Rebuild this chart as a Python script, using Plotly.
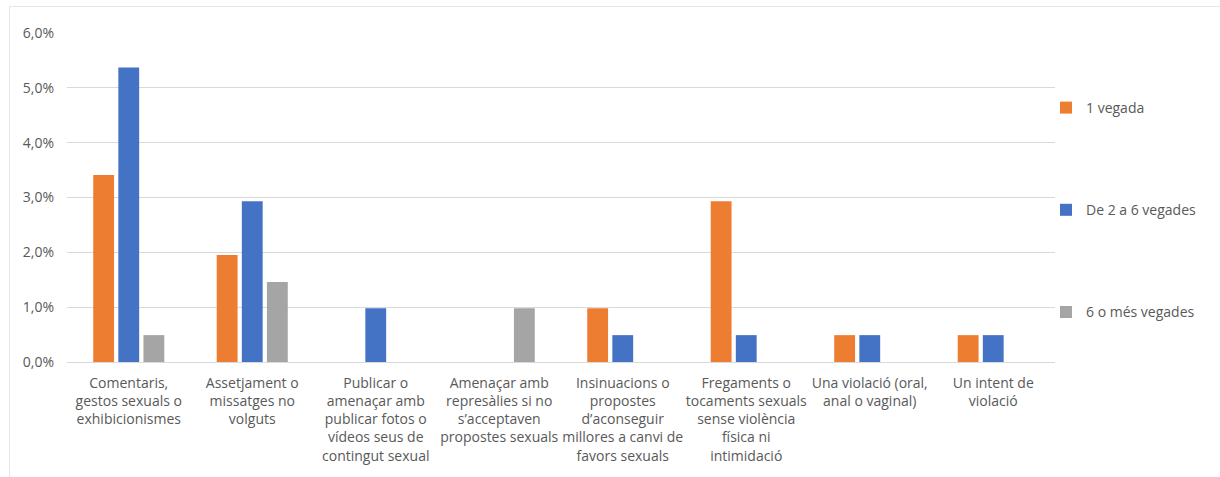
import plotly.graph_objects as go

categories = [
    "Comentaris,<br>gestos sexuals o<br>exhibicionismes",
    "Assetjament o<br>missatges no<br>volguts",
    "Publicar o<br>amenaçar amb<br>publicar fotos o<br>vídeos seus de<br>contingut sexual",
    "Amenaçar amb<br>represàlies si no<br>s’acceptaven<br>propostes sexuals",
    "Insinuacions o<br>propostes<br>d’aconseguir<br>millores a canvi de<br>favors sexuals",
    "Fregaments o<br>tocaments sexuals<br>sense violència<br>física ni<br>intimidació",
    "Una violació (oral,<br>anal o vaginal)",
    "Un intent de<br>violació",
]
series_names = ["1 vegada", "De 2 a 6 vegades", "6 o més vegades"]
vals_1 = [0.0341, 0.0195, 0.0, 0.0, 0.0098, 0.0293, 0.0049, 0.0049]
vals_2_6 = [0.0537, 0.0293, 0.0098, 0.0, 0.0049, 0.0049, 0.0049, 0.0049]
vals_6plus = [0.0049, 0.0146, 0.0, 0.0098, 0.0, 0.0, 0.0, 0.0]
colors = ["#ED7D31", "#4472C4", "#A5A5A5"]

fig = go.Figure()
for i, (name, vals) in enumerate(zip(series_names, [vals_1, vals_2_6, vals_6plus])):
    fig.add_trace(go.Bar(
        x=categories, y=vals, name=name, legendgroup=f"g{i}",
        marker=dict(color=colors[i], line=dict(width=0)),
    ))

# plot area in pixels
L, R, T, B = 67, 1055, 33, 362
W, H = R - L, B - T
def px(x):
    return (x - L) / W
def py(y):
    return (B - y) / H

font = "'Open Sans', 'Noto Sans', sans-serif"
fig.update_layout(
    width=1220, height=477,
    margin=dict(l=L, r=1220 - R, t=T, b=477 - B, autoexpand=False),
    paper_bgcolor="white", plot_bgcolor="white",
    barmode="group", bargap=0.39, bargroupgap=0.17,
    separators=", ",
    font=dict(family=font, size=14, color="#595959"),
    showlegend=True,
    legend=dict(
        x=px(1046), y=py(92), xanchor="left", yanchor="top",
        tracegroupgap=81, font=dict(size=14, color="#595959"),
        itemwidth=30, bgcolor="rgba(0,0,0,0)",
    ),
    xaxis=dict(
        showgrid=False, showline=True, linecolor="#D9D9D9", linewidth=1,
        tickangle=0, ticks="", ticklabelstandoff=8, automargin=False,
        tickfont=dict(size=14, color="#595959"),
    ),
    yaxis=dict(
        range=[0, 0.06], dtick=0.01, tickformat=".1%",
        showgrid=True, gridcolor="#D9D9D9", gridwidth=1,
        zeroline=False, showline=False, ticks="", ticklabelstandoff=12,
        automargin=False,
        tickfont=dict(size=14, color="#595959"),
    ),
    shapes=[
        dict(type="line", xref="paper", yref="paper", x0=px(9), x1=px(1220), y0=py(6.5), y1=py(6.5),
             line=dict(color="#E6E6E6", width=1)),
        dict(type="line", xref="paper", yref="paper", x0=px(9.5), x1=px(9.5), y0=py(6.5), y1=py(477),
             line=dict(color="#E6E6E6", width=1)),
    ],
)

fig.write_html("out.html", config={"displayModeBar": False},
               post_script="document.body.style.margin='0';")
